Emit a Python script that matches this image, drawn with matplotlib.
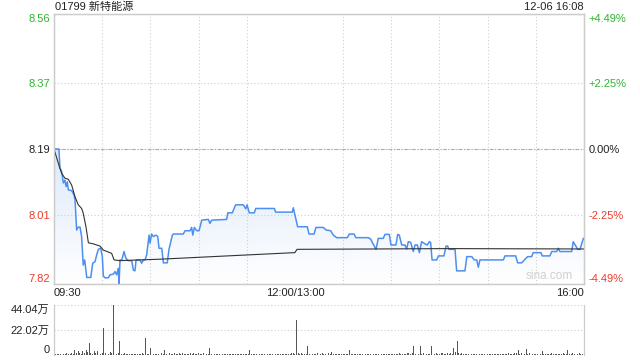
import numpy as np
import matplotlib
matplotlib.use("Agg")
import matplotlib.pyplot as plt
from matplotlib.colors import LinearSegmentedColormap
from matplotlib.patches import Polygon

plt.rcParams['font.family'] = ['Liberation Sans', 'Noto Sans CJK SC', 'DejaVu Sans']

title = "01799 新特能源"
stamp = "12-06 16:08"
prev_close = 8.19

# price keypoints (trading minute from 09:30, price)
price_t = [0, 3.1, 3.7, 4.8, 5.8, 6.8, 7.5, 8.3, 8.9, 11, 12.5, 13.1, 14.1, 15.1, 16.2,
           17.2, 18.2, 19.1, 20.4, 22.9, 24.1, 25.5, 26.6, 27.6, 29.1, 30.1, 30.7, 31.8,
           33.8, 34.9, 36.9, 38, 39, 40, 40.5, 41.1, 42.2, 43.6, 44.8, 46.3, 48.4, 49.4,
           50.4, 51.1, 53.5, 54.6, 55.6, 56.7, 57.7, 59.2, 59.8, 60.8, 61.8, 63.5,
           64.6, 65.4, 67.1, 68.1, 70.5, 71.6, 73.7, 74.3, 80.5, 81.6, 84.7, 85.7, 86.4,
           87.4, 88.9, 90.3, 92, 96.1, 97.1, 98.2, 107.5, 108.2, 111, 113.1, 117.9, 119.4,
           120.2, 121.6, 124.7, 125.6, 137.2, 138, 148.4, 149, 151.7, 157.7, 158.8, 161.9,
           163.1, 167.7, 169.4, 172.3, 173.9, 176, 182.6, 183.9, 186.8, 188, 195.7, 197.2,
           198.4, 200.5, 201.9, 205, 206.1, 208.8, 209.8, 212.9, 214, 215, 216.5, 218.5,
           219.6, 220.6, 222.1, 223.7, 224.8, 226.2, 227.5, 228.9, 231, 232.4, 233.7,
           234.5, 235.4, 238.3, 239.3, 242.8, 244.1, 245.1, 245.9, 249.7, 250.7, 255.9,
           257, 260.1, 261.7, 263.2, 264.2, 265.2, 279.8, 280.8, 287.5, 288.7, 291.2,
           293.3, 294.9, 297.4, 298.4, 303.2, 304, 308.8, 309.9, 313, 314, 315, 322.3,
           323.3, 326.1, 327.5, 329.6, 330]
price_v = [8.19, 8.19, 8.138, 8.128, 8.097, 8.105, 8.087, 8.100, 8.078, 8.076, 8.064, 8.050,
           7.968, 7.976, 7.976, 7.950, 7.872, 7.886, 7.838, 7.838, 7.877, 7.881, 7.900,
           7.915, 7.918, 7.895, 7.842, 7.837, 7.837, 7.845, 7.847, 7.854, 7.845, 7.863,
           7.82, 7.886, 7.886, 7.909, 7.890, 7.884, 7.884, 7.858, 7.856, 7.886, 7.886,
           7.877, 7.886, 7.886, 7.900, 7.954, 7.932, 7.957, 7.950, 7.954, 7.950, 7.918,
           7.918, 7.878, 7.878, 7.915, 7.954, 7.957, 7.957, 7.966, 7.966, 7.975, 7.954,
           7.975, 7.966, 7.966, 7.995, 7.997, 7.986, 7.995, 7.997, 8.015, 8.015, 8.037,
           8.037, 8.026, 8.037, 8.015, 8.015, 8.027, 8.027, 8.017, 8.017, 8.029, 7.977,
           7.977, 7.957, 7.957, 7.975, 7.975, 7.968, 7.966, 7.954, 7.947, 7.947, 7.957,
           7.957, 7.947, 7.947, 7.943, 7.932, 7.915, 7.945, 7.945, 7.956, 7.956, 7.927,
           7.927, 7.956, 7.954, 7.927, 7.927, 7.916, 7.936, 7.934, 7.909, 7.927, 7.927,
           7.906, 7.936, 7.930, 7.927, 7.936, 7.934, 7.886, 7.886, 7.897, 7.897, 7.924,
           7.924, 7.915, 7.915, 7.856, 7.856, 7.895, 7.895, 7.886, 7.886, 7.866, 7.886,
           7.886, 7.897, 7.897, 7.878, 7.878, 7.888, 7.895, 7.895, 7.906, 7.906, 7.897,
           7.897, 7.909, 7.909, 7.918, 7.909, 7.909, 7.936, 7.915, 7.915, 7.945, 7.945]

# average price keypoints
avg_t = [0, 3.3, 4.8, 6.8, 8.9, 11, 13.1, 15.1, 17.2, 18.2, 19.9, 21.4, 24.5, 28.6, 30.7,
         35.9, 37.4, 41.1, 66, 150, 151.3, 246.6, 330]
avg_v = [8.19, 8.142, 8.123, 8.110, 8.107, 8.091, 8.059, 8.037, 8.027, 8.014, 7.977, 7.933,
         7.930, 7.924, 7.913, 7.904, 7.886, 7.884, 7.888, 7.906, 7.915, 7.917, 7.916]

# volume per minute (万 shares)
volume = [
    1.5, 0.5, 0.8, 0.6, 1.0, 0.7, 1.2, 0.9, 1.5, 0.8, 1.2, 2.0, 1.0, 4.0, 1.5, 3.5, 2.0, 1.0, 3.5, 1.5,
    4.5, 2.5, 10.8, 1.5, 1.0, 3.8, 2.0, 3.8, 1.5, 1.0,
    2.0, 24.0, 1.5, 2.5, 1.0, 3.0, 1.5, 44.04, 2.0, 1.0, 1.5, 12.3, 1.0, 0.8, 1.5, 0.6, 1.0, 0.5, 0.8, 1.2,
    0.6, 0.8, 1.0, 0.5, 0.7, 1.5, 0.8, 15.2, 1.0, 0.8,
    6.4, 1.0, 0.5, 0.8, 1.2, 0.6, 0.9, 1.5, 0.7, 4.4, 1.0, 0.6, 1.5, 0.8, 1.2, 2.0, 1.0, 0.7, 1.5, 0.8,
    2.0, 1.0, 0.6, 1.2, 0.9, 1.5, 0.8, 2.0, 1.0, 0.6,
    1.5, 0.8, 1.2, 2.0, 0.9, 0.6, 1.0, 6.4, 0.8, 1.2, 0.7, 0.5, 0.9, 1.2, 0.6, 0.8, 1.0, 0.5, 0.7, 1.2,
    0.6, 0.9, 0.5, 1.0, 0.7, 1.2, 0.6, 0.8, 0.5, 0.9,
    1.0, 0.6, 4.0, 0.8, 0.5, 1.2, 0.7, 0.9, 0.5, 0.8, 1.0, 0.6, 0.9, 0.5, 0.7, 1.0, 0.6, 0.8, 0.5, 0.9,
    1.2, 0.6, 0.8, 1.0, 0.5, 0.7, 0.9, 1.2, 1.5, 2.0,
    1.0, 30.8, 2.0, 1.0, 1.5, 0.8, 1.2, 0.9, 8.2, 1.0, 0.7, 0.9, 1.2, 0.6, 1.5, 0.8, 1.0, 2.0, 0.7, 1.2,
    0.9, 1.5, 0.6, 2.5, 1.0, 0.8, 1.2, 0.6, 0.9, 1.0,
    1.2, 0.7, 1.0, 0.6, 4.4, 0.9, 0.7, 1.2, 0.6, 1.0, 0.8, 0.5, 0.9, 1.2, 0.6, 0.8, 1.0, 0.5, 0.7, 1.2,
    0.6, 1.0, 0.8, 1.5, 0.6, 0.9, 1.2, 0.7, 1.0, 0.8,
    0.6, 1.0, 0.8, 1.2, 0.7, 1.5, 0.9, 0.6, 1.2, 1.0, 1.5, 2.0, 1.0, 1.5, 8.2, 1.0, 2.0, 1.2, 8.2, 1.0,
    1.5, 2.0, 0.8, 1.2, 1.0, 8.2, 1.5, 0.8, 2.0, 1.2,
    1.0, 1.5, 2.0, 0.8, 1.2, 1.5, 1.0, 2.0, 1.2, 6.4, 2.5, 12.3, 1.5, 1.0, 2.0, 0.8, 1.2, 1.0, 0.7, 1.5,
    0.9, 0.6, 1.0, 0.8, 15.2, 1.0, 0.7, 0.9, 1.2, 0.6,
    1.0, 0.8, 0.5, 0.9, 1.2, 0.6, 0.8, 1.0, 0.5, 0.7, 1.2, 0.6, 0.9, 1.5, 0.8, 1.2, 1.0, 2.0, 1.5, 4.4,
    1.0, 2.0, 0.8, 1.2, 5.5, 1.0, 1.5, 0.8, 1.2, 1.0,
    0.8, 1.2, 0.6, 1.0, 3.5, 0.8, 1.2, 0.6, 1.0, 0.8, 1.5, 0.7, 1.0, 0.8, 0.6, 1.2, 0.9, 1.5, 0.7, 1.0,
    4.4, 1.2, 0.8, 1.5, 1.0, 0.6, 1.2, 2.0, 1.0, 0.8,
    2.0]

price_ticks = [8.56, 8.37, 8.19, 8.01, 7.82]
pct_labels = ["+4.49%", "+2.25%", "0.00%", "-2.25%", "-4.49%"]
tick_colors = ["#2fb42f", "#2fb42f", "#222222", "#f03a2a", "#f03a2a"]
vol_ticks = [0, 22.02, 44.04]
vol_labels = ["0", "22.02万", "44.04万"]
x_ticks = [0, 150, 330]
x_labels = ["09:30", "12:00/13:00", "16:00"]

grid_kw = dict(color="#cfcfcf", linestyle=(0, (1, 2)), linewidth=0.8)
fs = 8

fig = plt.figure(figsize=(6.4, 3.6), dpi=100)
ax = fig.add_axes([54 / 640, 76 / 360, 530 / 640, 270 / 360])
axv = fig.add_axes([54 / 640, 5 / 360, 530 / 640, 50 / 360])

ax.set_xlim(0, 330)
ax.set_ylim(price_ticks[-1], price_ticks[0])

# gradient fill under price line
cmap = LinearSegmentedColormap.from_list("fill", ["#dde9fb", "#ffffff"])
grad = np.linspace(0, 1, 256).reshape(-1, 1)
img = ax.imshow(grad, cmap=cmap, aspect="auto", extent=[0, 330, 7.82, 8.19],
                origin="upper", zorder=1)
poly = Polygon(list(zip(price_t, price_v)) + [(330, 7.82), (0, 7.82)],
               closed=True, facecolor="none", edgecolor="none")
ax.add_patch(poly)
img.set_clip_path(poly)
ax.set_ylim(price_ticks[-1], price_ticks[0])

ax.plot(price_t, price_v, color="#4d8ff0", linewidth=1.1, zorder=3)
ax.plot(avg_t, avg_v, color="#333333", linewidth=0.8, zorder=4)

ax.set_xticks(np.arange(0, 331, 30), minor=True)
ax.set_xticks(x_ticks, x_labels)
ax.set_yticks(price_ticks, [f"{v:.2f}" for v in price_ticks])
ax.grid(True, which="minor", axis="x", **grid_kw)
ax.grid(True, which="major", axis="y", **grid_kw)
ax.axhline(prev_close, color="#aaaaaa", linestyle=(0, (3, 1.5, 1, 1.5)), linewidth=0.8, zorder=2)
ax.tick_params(axis="both", which="both", length=0, labelsize=fs, pad=3)
ax.tick_params(axis="y", pad=3)
for lab, c in zip(ax.get_yticklabels(), tick_colors):
    lab.set_color(c)
ylabs = ax.get_yticklabels()
ylabs[0].set_va("top")
ylabs[-1].set_va("bottom")
xlabs = ax.get_xticklabels()
xlabs[0].set_ha("left")
xlabs[-1].set_ha("right")
for lab in xlabs:
    lab.set_color("#222222")

ax2 = ax.twinx()
ax2.set_ylim(price_ticks[-1], price_ticks[0])
ax2.set_yticks(price_ticks, pct_labels)
ax2.tick_params(axis="y", length=0, labelsize=fs, pad=3)
for lab, c in zip(ax2.get_yticklabels(), tick_colors):
    lab.set_color(c)
y2 = ax2.get_yticklabels()
y2[0].set_va("top")
y2[-1].set_va("bottom")

for a in (ax, ax2):
    for s in a.spines.values():
        s.set_color("#cccccc")
        s.set_linewidth(0.9)

ax.text(0.935, 0.03, "sina.com", transform=ax.transAxes, ha="center", va="center",
        fontsize=8.5, color="#d0d0d0", zorder=5)

fig.text(55 / 640, 1 - 7 / 360, title, ha="left", va="center", fontsize=fs, color="#222222")
fig.text(584 / 640, 1 - 7 / 360, stamp, ha="right", va="center", fontsize=fs, color="#222222")

# volume panel
axv.bar(np.arange(len(volume)), volume, width=0.55, color="#555555", linewidth=0)
axv.set_xlim(0, 330)
axv.set_ylim(0, vol_ticks[-1])
axv.set_yticks(vol_ticks, vol_labels)
axv.set_xticks([])
axv.grid(True, axis="y", **grid_kw)
axv.tick_params(axis="y", length=0, labelsize=fs, pad=3, labelcolor="#222222")
vl = axv.get_yticklabels()
vl[0].set_va("bottom")
vl[-1].set_va("top")
for k, s in axv.spines.items():
    s.set_color("#cccccc")
    s.set_linewidth(0.9)
    if k in ("top", "bottom"):
        s.set_visible(False)

fig.savefig("out.png", dpi=100)
